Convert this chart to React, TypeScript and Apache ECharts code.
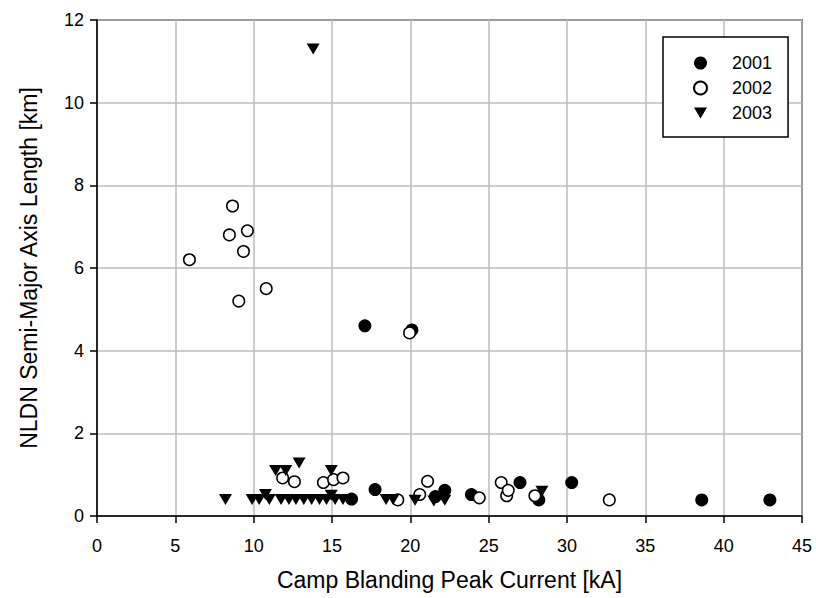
import React, { useEffect, useRef } from "react";
import * as echarts from "echarts";

const FONT = "'Liberation Sans', Arial, Helvetica, sans-serif";

const years = ["2001", "2002", "2003"];
const xTitle = "Camp Blanding Peak Current [kA]";
const yTitle = "NLDN Semi-Major Axis Length [km]";

const s2001: [number, number][] = [
  [16.25, 0.41], [17.1, 4.6], [17.75, 0.64], [20.1, 4.5], [21.6, 0.47],
  [22.2, 0.62], [23.9, 0.52], [27.0, 0.81], [28.2, 0.39], [30.3, 0.81],
  [38.6, 0.39], [42.95, 0.39],
];

const s2002: [number, number][] = [
  [5.9, 6.2], [8.45, 6.8], [8.65, 7.5], [9.05, 5.2], [9.35, 6.4], [9.6, 6.9],
  [10.8, 5.5], [11.85, 0.92], [12.6, 0.83], [14.45, 0.81], [15.1, 0.88],
  [15.7, 0.92], [19.2, 0.39], [19.95, 4.43], [20.6, 0.52], [21.1, 0.84],
  [24.4, 0.44], [25.8, 0.81], [26.15, 0.49], [26.25, 0.62], [27.95, 0.49],
  [32.7, 0.39],
];

const s2003: [number, number][] = [
  [8.2, 0.4], [9.9, 0.4], [10.35, 0.4], [10.75, 0.52], [11.0, 0.4],
  [11.4, 1.1], [12.05, 1.1], [11.75, 0.4], [12.25, 0.4], [12.7, 0.4],
  [12.9, 1.28], [13.2, 0.4], [13.7, 0.4], [14.2, 0.4], [14.65, 0.4],
  [13.8, 11.3], [14.95, 1.1], [14.95, 0.5], [15.2, 0.4], [15.7, 0.4],
  [18.45, 0.4], [18.9, 0.4], [20.3, 0.38], [21.5, 0.36], [22.2, 0.38],
  [28.4, 0.6],
];

const TRI = "path://M0,0L12,0L6,10Z";

export default function App() {
  const ref = useRef<HTMLDivElement>(null);
  useEffect(() => {
    if (!ref.current) return;
    const chart = echarts.init(ref.current, undefined, { renderer: "svg" });
    const axisCommon = {
      type: "value" as const,
      nameLocation: "middle" as const,
      nameTextStyle: { fontSize: 23, color: "#000", fontFamily: FONT },
      axisLine: { show: true, onZero: false, lineStyle: { color: "#000", width: 1.5 } },
      axisTick: { show: true, length: 7, lineStyle: { color: "#000", width: 1.5 } },
      splitLine: { show: true, lineStyle: { color: "#bdbdbd", width: 1.5 } },
    };
    chart.setOption({
      animation: false,
      backgroundColor: "#fff",
      textStyle: { fontFamily: FONT },
      grid: {
        left: 97, right: 14, top: 20, bottom: 82,
        show: true, borderColor: "#000", borderWidth: 1.5,
      },
      xAxis: {
        ...axisCommon,
        min: 0, max: 45, interval: 5,
        name: xTitle, nameGap: 52,
        axisLabel: { fontSize: 18, color: "#000", margin: 21, fontFamily: FONT },
      },
      yAxis: {
        ...axisCommon,
        min: 0, max: 12, interval: 2,
        name: yTitle, nameGap: 57,
        axisLabel: { fontSize: 18, color: "#000", margin: 13, fontFamily: FONT },
      },
      legend: {
        orient: "vertical",
        left: 663, top: 37,
        padding: [16, 16, 14, 30],
        itemGap: 5, itemWidth: 13, itemHeight: 13,
        borderColor: "#000", borderWidth: 1.5, backgroundColor: "#fff",
        selectedMode: false,
        textStyle: { fontSize: 18, color: "#000", padding: [0, 0, 0, 20], lineHeight: 20, fontFamily: FONT },
        data: years,
      },
      series: [
        {
          name: years[0], type: "scatter", symbol: "circle", symbolSize: 13,
          itemStyle: { color: "#000", opacity: 1 },
          data: s2001,
        },
        {
          name: years[1], type: "scatter", symbol: "circle", symbolSize: 11.5,
          itemStyle: { color: "#fff", borderColor: "#000", borderWidth: 1.5, opacity: 1 },
          data: s2002,
        },
        {
          name: years[2], type: "scatter", symbol: TRI, symbolSize: [13, 11],
          itemStyle: { color: "#000", opacity: 1 },
          data: s2003,
        },
      ],
    });
    return () => chart.dispose();
  }, []);
  return (
    <div
      ref={ref}
      style={{ position: "absolute", left: 0, top: 0, width: 816, height: 598 }}
    />
  );
}
